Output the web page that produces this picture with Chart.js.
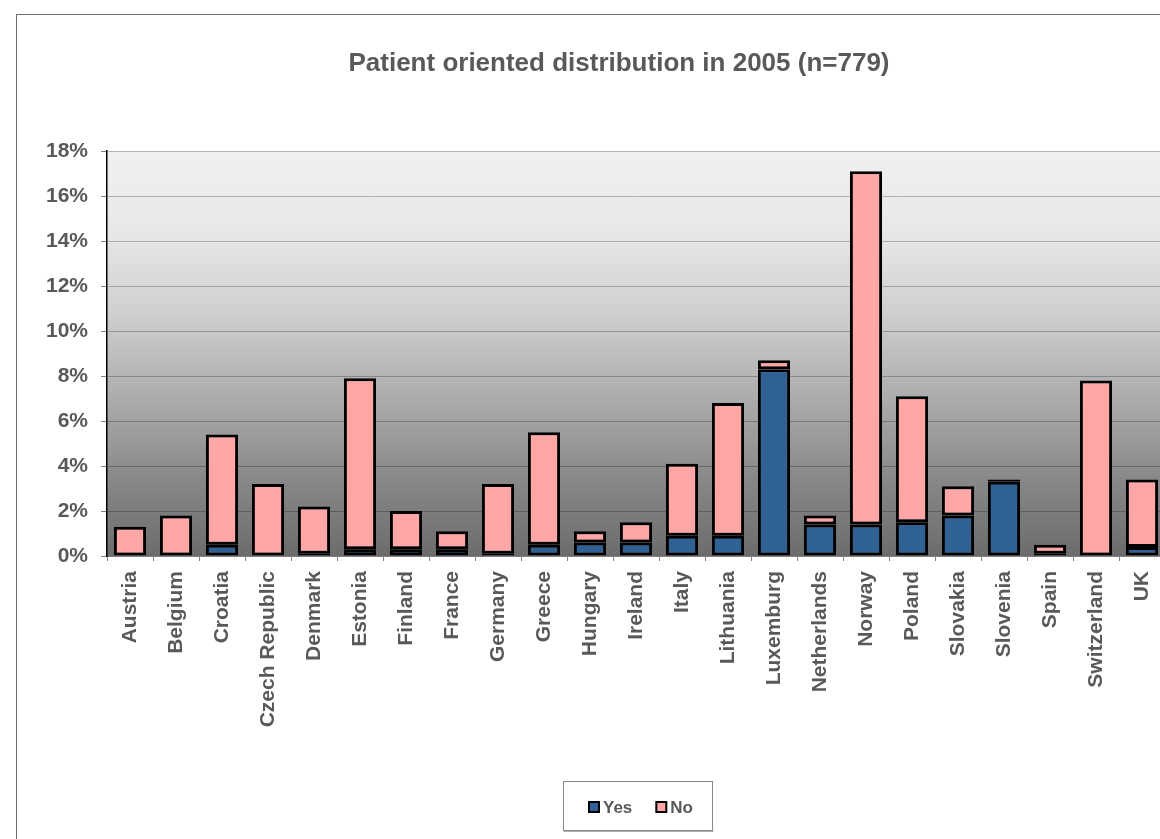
<!DOCTYPE html>
<html>
<head>
<meta charset="utf-8">
<script src="https://cdn.jsdelivr.net/npm/chart.js@4/dist/chart.umd.min.js"></script>
<style>
  html, body { margin: 0; padding: 0; background: #fff; overflow: hidden; }
  #wrap { position: absolute; left: 0; top: 0; width: 1240px; height: 839px; }
</style>
</head>
<body>
<div id="wrap"><canvas id="myChart" width="1240" height="839"></canvas></div>
<script>
/* data, in % of n=779 */
var countries = ['Austria', 'Belgium', 'Croatia', 'Czech Republic', 'Denmark', 'Estonia',
                 'Finland', 'France', 'Germany', 'Greece', 'Hungary', 'Ireland', 'Italy',
                 'Lithuania', 'Luxemburg', 'Netherlands', 'Norway', 'Poland', 'Slovakia',
                 'Slovenia', 'Spain', 'Switzerland', 'UK'];
var yesValues = [0, 0, 0.5, 0, 0.1, 0.3, 0.3, 0.3, 0.1, 0.5, 0.6, 0.6, 0.9,
                 0.9, 8.3, 1.4, 1.4, 1.5, 1.8, 3.3, 0.1, 0, 0.4];
var noValues  = [1.3, 1.8, 4.9, 3.2, 2.1, 7.6, 1.7, 0.8, 3.1, 5.0, 0.5, 0.9, 3.2,
                 5.9, 0.4, 0.4, 15.7, 5.6, 1.3, 0.1, 0.4, 7.8, 3.0];
var seriesNames = ['Yes', 'No'];
var seriesColors = ['#2F6194', '#FFA6A6'];
var yTicks = [0, 2, 4, 6, 8, 10, 12, 14, 16, 18];

var textGray = '#595959';
var fontFamily = '"Liberation Sans", Arial, sans-serif';

/* white page, outer frame and gradient plot background */
var backdrop = {
    id: 'backdrop',
    afterLayout: function (chart) {
        // centre the title on the outer frame, not on the canvas
        if (chart.titleBlock) {
            chart.titleBlock.left = 73;
        }
    },
    beforeDraw: function (chart) {
        var ctx = chart.ctx;
        var a = chart.chartArea;
        ctx.save();
        ctx.fillStyle = '#fff';
        ctx.fillRect(0, 0, chart.width, chart.height);
        ctx.strokeStyle = '#707070';
        ctx.lineWidth = 1;
        ctx.strokeRect(16.5, 14.5, 1206, 900);
        var g = ctx.createLinearGradient(0, a.top, 0, a.bottom);
        g.addColorStop(0, '#f0f0f0');
        g.addColorStop(0.2, '#e8e8e8');
        g.addColorStop(0.4, '#cfcfcf');
        g.addColorStop(0.6, '#aeaeae');
        g.addColorStop(0.8, '#8a8a8a');
        g.addColorStop(1, '#6c6c6c');
        ctx.fillStyle = g;
        ctx.fillRect(a.left, a.top, a.right - a.left, a.bottom - a.top);
        ctx.restore();
    }
};

/* boxed legend under the axis labels */
var boxLegend = {
    id: 'boxLegend',
    afterDraw: function (chart) {
        var ctx = chart.ctx;
        var bx = 563.5, by = 781.5, bw = 149, bh = 49;
        ctx.save();
        ctx.strokeStyle = '#8a8a8a';
        ctx.lineWidth = 1;
        ctx.strokeRect(bx, by, bw, bh);
        ctx.strokeStyle = '#b0b0b0';
        ctx.beginPath();
        ctx.moveTo(bx, by + bh + 1);
        ctx.lineTo(bx + bw + 1, by + bh + 1);
        ctx.stroke();
        ctx.font = 'bold 17px ' + fontFamily;
        ctx.textBaseline = 'middle';
        var x = 589;
        var cy = 807;
        chart.data.datasets.forEach(function (ds) {
            ctx.fillStyle = ds.backgroundColor;
            ctx.fillRect(x, cy - 5, 10, 10);
            ctx.strokeStyle = '#000';
            ctx.lineWidth = 2;
            ctx.strokeRect(x, cy - 5, 10, 10);
            ctx.fillStyle = textGray;
            ctx.fillText(ds.label, x + 14, cy + 1);
            x += 14 + ctx.measureText(ds.label).width + 24;
        });
        ctx.restore();
    }
};

var ctx = document.getElementById('myChart');
var chart = new Chart(ctx, {
    type: 'bar',
    data: {
        labels: countries,
        datasets: [{
            label: seriesNames[0],
            data: yesValues,
            backgroundColor: seriesColors[0]
        }, {
            label: seriesNames[1],
            data: noValues,
            backgroundColor: seriesColors[1]
        }]
    },
    options: {
        responsive: false,
        animation: false,
        devicePixelRatio: 1,
        layout: { padding: { left: 0, right: 75, top: 0, bottom: 0 } },
        datasets: {
            bar: {
                borderColor: '#000',
                borderWidth: 3,
                borderSkipped: false,
                barPercentage: 0.7,
                categoryPercentage: 1
            }
        },
        plugins: {
            legend: { display: false },
            tooltip: { enabled: false },
            title: {
                display: true,
                text: 'Patient oriented distribution in 2005 (n=779)',
                color: textGray,
                font: { family: fontFamily, size: 26, weight: 'bold' },
                padding: { top: 48, bottom: 71.8 }
            }
        },
        scales: {
            x: {
                stacked: true,
                offset: true,
                afterFit: function (scale) { scale.height = 283; },
                grid: {
                    drawOnChartArea: false,
                    drawTicks: true,
                    tickLength: 5,
                    tickColor: '#808080',
                    offset: true
                },
                border: { display: true, color: '#808080', width: 1 },
                ticks: {
                    autoSkip: false,
                    minRotation: 90,
                    maxRotation: 90,
                    padding: 10,
                    color: textGray,
                    font: { family: fontFamily, size: 21, weight: 'bold' }
                }
            },
            y: {
                stacked: true,
                min: 0,
                max: 18,
                afterFit: function (scale) { scale.width = 107; },
                afterBuildTicks: function (scale) {
                    scale.ticks = yTicks.map(function (v) { return { value: v }; });
                },
                grid: {
                    color: 'rgba(0,0,0,0.25)',
                    tickColor: '#808080',
                    tickLength: 6,
                    lineWidth: 1
                },
                border: { display: true, color: '#000', width: 1.5 },
                ticks: {
                    padding: 13,
                    color: textGray,
                    font: { family: fontFamily, size: 21, weight: 'bold' },
                    callback: function (v) { return v + '%'; }
                }
            }
        }
    },
    plugins: [backdrop, boxLegend]
});
</script>
</body>
</html>
